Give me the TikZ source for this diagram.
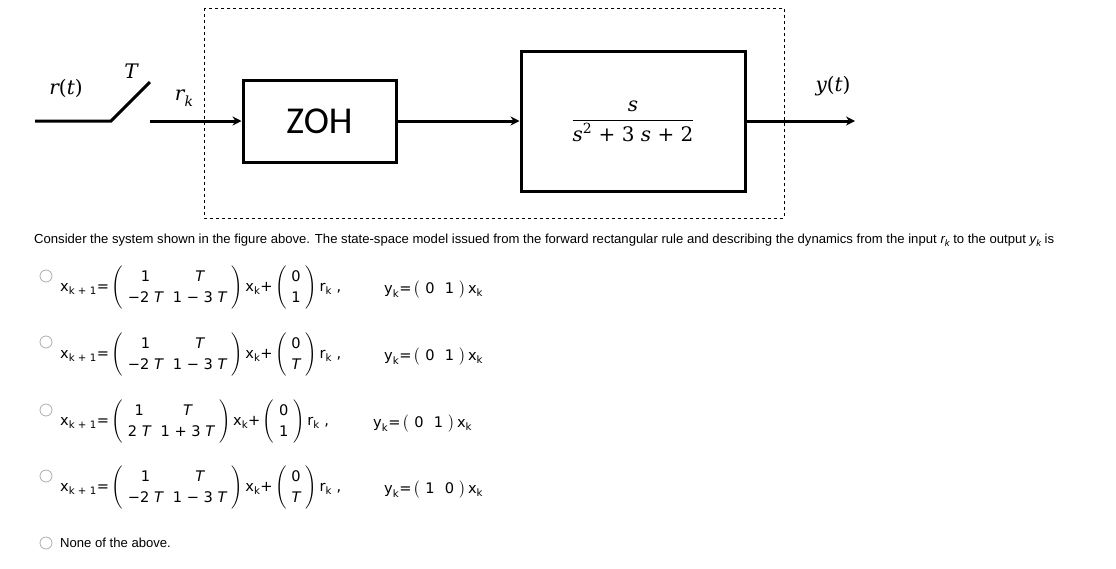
\documentclass[tikz,border=0pt]{standalone}
\usepackage{amsmath}
\usepackage{fontspec}
\setmainfont{Liberation Sans}
\newfontfamily\dv{DejaVu Sans}
\newfontfamily\dvs{DejaVu Serif}
\newfontfamily\carl{Carlito}
\usetikzlibrary{arrows.meta}
\newcommand\tx[1]{\text{\dv #1}}
\newcommand\ti[1]{\text{\dv\itshape #1}}
\newcommand\subk[1]{{\itshape #1}\raisebox{-3.5pt}{\fontsize{9.5}{9.5}\selectfont\itshape k}}
\begin{document}
\begin{tikzpicture}[x=1pt,y=-1pt,
  blk/.style={draw, line width=3pt, inner sep=0},
  sig/.style={line width=3pt},
  arr/.style={sig, -{Stealth[length=9pt,width=9pt]}},
  radio/.style={draw=gray!65, line width=0.8pt, circle, minimum size=12pt, inner sep=0},
  eq/.style={anchor=west, inner sep=0, font=\fontsize{14.6}{17}\selectfont},
  txt/.style={anchor=west, inner sep=0, font=\fontsize{13.1}{15}\selectfont},
  lab/.style={inner sep=0, font=\dvs\fontsize{20}{24}\selectfont}]
\useasboundingbox (0,0) rectangle (1116,568);
% dashed frame
\draw[line width=0.7pt, dash pattern=on 3pt off 3pt] (204,8) rectangle (784,218);
% blocks
\node[blk, minimum width=153pt, minimum height=82pt] (zoh) at (319.5,121) {\carl\fontsize{38}{40}\selectfont ZOH};
\node[blk, minimum width=224pt, minimum height=140pt, font=\fontsize{20}{24}\selectfont] (plant) at (633,121) {$\displaystyle\frac{\text{\dvs\itshape s}}{\text{\dvs{\itshape s}\textsuperscript{2} + 3 {\itshape s} + 2}}$};
% switch and signals
\coordinate (in) at (35,121);
\coordinate (sw1) at (111,121);
\coordinate (sw2) at (150,82);
\coordinate (sw3) at (150,121);
\coordinate (out) at (855,121);
\draw[sig] (in) -- (sw1) -- (sw2);
\draw[arr] (sw3) -- (zoh.west);
\draw[arr] (zoh.east) -- (plant.west);
\draw[arr] (plant.east) -- (out);
% labels
\node[lab] (rt) at (66,88) {{\itshape r}({\itshape t})};
\node[lab] (T) at (131,71) {\itshape T};
\node[lab] (rk) at (184,98) {{\itshape r}\raisebox{-6pt}{\fontsize{14}{14}\selectfont\itshape k}};
\node[lab] (yt) at (833,86) {{\itshape y}({\itshape t})};
% statement
\node[txt] (stmt) at (34,240) {Consider the system shown in the figure above. The state-space model issued from the forward rectangular rule and describing the dynamics from the input \subk{r} to the output \subk{y} is};
% radio buttons
\node[radio] (o1) at (46,276) {};
\node[radio] (o2) at (46,342) {};
\node[radio] (o3) at (46,410) {};
\node[radio] (o4) at (46,476) {};
\node[radio] (o5) at (46,543) {};
% option 1
\node[eq] (e1) at (60,288) {\renewcommand\arraystretch{1.2}$\tx{x}_{\tx{k + 1}}\tx{=}\left(\begin{array}{cc}\tx{1}&\ti{T}\\ \tx{−2 }\ti{T}&\tx{1 − 3 }\ti{T}\end{array}\right)\tx{x}_{\tx{k}}\tx{+}\left(\begin{array}{c}\tx{0}\\ \tx{1}\end{array}\right)\tx{r}_{\tx{k}}\tx{ ,}$};
\node[eq] (y1) at (384,290) {$\tx{y}_{\tx{k}}\tx{=}\left(\begin{array}{cc}\tx{0}&\tx{1}\end{array}\right)\tx{x}_{\tx{k}}$};
% option 2
\node[eq] (e2) at (60,355) {\renewcommand\arraystretch{1.2}$\tx{x}_{\tx{k + 1}}\tx{=}\left(\begin{array}{cc}\tx{1}&\ti{T}\\ \tx{−2 }\ti{T}&\tx{1 − 3 }\ti{T}\end{array}\right)\tx{x}_{\tx{k}}\tx{+}\left(\begin{array}{c}\tx{0}\\ \ti{T}\end{array}\right)\tx{r}_{\tx{k}}\tx{ ,}$};
\node[eq] (y2) at (384,357) {$\tx{y}_{\tx{k}}\tx{=}\left(\begin{array}{cc}\tx{0}&\tx{1}\end{array}\right)\tx{x}_{\tx{k}}$};
% option 3
\node[eq] (e3) at (60,422) {\renewcommand\arraystretch{1.2}$\tx{x}_{\tx{k + 1}}\tx{=}\left(\begin{array}{cc}\tx{1}&\ti{T}\\ \tx{2 }\ti{T}&\tx{1 + 3 }\ti{T}\end{array}\right)\tx{x}_{\tx{k}}\tx{+}\left(\begin{array}{c}\tx{0}\\ \tx{1}\end{array}\right)\tx{r}_{\tx{k}}\tx{ ,}$};
\node[eq] (y3) at (373,424) {$\tx{y}_{\tx{k}}\tx{=}\left(\begin{array}{cc}\tx{0}&\tx{1}\end{array}\right)\tx{x}_{\tx{k}}$};
% option 4
\node[eq] (e4) at (60,488) {\renewcommand\arraystretch{1.2}$\tx{x}_{\tx{k + 1}}\tx{=}\left(\begin{array}{cc}\tx{1}&\ti{T}\\ \tx{−2 }\ti{T}&\tx{1 − 3 }\ti{T}\end{array}\right)\tx{x}_{\tx{k}}\tx{+}\left(\begin{array}{c}\tx{0}\\ \ti{T}\end{array}\right)\tx{r}_{\tx{k}}\tx{ ,}$};
\node[eq] (y4) at (384,490) {$\tx{y}_{\tx{k}}\tx{=}\left(\begin{array}{cc}\tx{1}&\tx{0}\end{array}\right)\tx{x}_{\tx{k}}$};
% option 5
\node[txt] (none) at (60,543) {None of the above.};
\end{tikzpicture}
\end{document}
